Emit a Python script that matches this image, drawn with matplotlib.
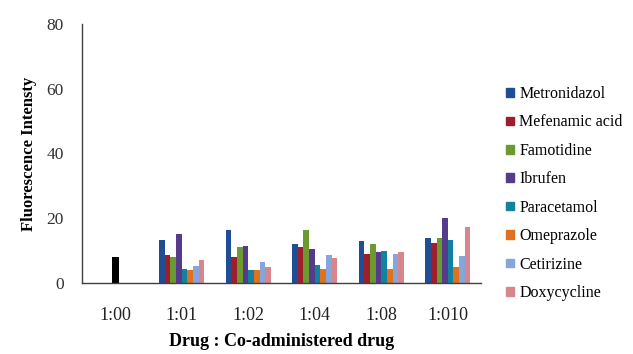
import numpy as np
import matplotlib
matplotlib.use('Agg')
import matplotlib.pyplot as plt
from matplotlib.patches import Patch

plt.rcParams['font.family'] = ['Liberation Serif', 'DejaVu Serif']

ratios = ['1:00', '1:01', '1:02', '1:04', '1:08', '1:010']
drug_alone = [8.0, 0, 0, 0, 0, 0]

drugs = ['Metronidazol', 'Mefenamic acid', 'Famotidine', 'Ibrufen',
         'Paracetamol', 'Omeprazole', 'Cetirizine', 'Doxycycline']
colors = ['#1F4E94', '#9E1F2C', '#6B9B30', '#553B8A',
          '#13829F', '#DF711F', '#86A5DB', '#D7868D']

metronidazol = [0, 13.4, 16.3, 11.9, 13.1, 13.8]
mefenamic = [0, 8.7, 7.9, 11.1, 9.1, 12.3]
famotidine = [0, 7.9, 11.2, 16.3, 11.9, 13.8]
ibrufen = [0, 15.1, 11.5, 10.4, 9.5, 20.2]
paracetamol = [0, 4.4, 4.0, 5.5, 9.9, 13.4]
omeprazole = [0, 4.0, 4.0, 4.4, 4.4, 4.8]
cetirizine = [0, 5.1, 6.4, 8.7, 9.1, 8.3]
doxycycline = [0, 7.1, 4.8, 7.6, 9.5, 17.4]
series = [metronidazol, mefenamic, famotidine, ibrufen,
          paracetamol, omeprazole, cetirizine, doxycycline]

fig = plt.figure(figsize=(6.33, 3.54), dpi=100)
ax = fig.add_axes([0.1295, 0.2006, 0.6305, 0.732])

x = np.arange(len(ratios))
w = 0.085
n = len(series)
for i, vals in enumerate(series):
    off = (i - (n - 1) / 2) * w
    ax.bar(x[1:] + off, vals[1:], w, color=colors[i], label=drugs[i])
ax.bar(x[:1], drug_alone[:1], 0.1, color='black')

ax.set_xlim(-0.5, len(ratios) - 0.5)
ax.set_ylim(0, 80)
ax.set_yticks([0, 20, 40, 60, 80])
ax.set_xticks(x)
ax.set_xticklabels(ratios, fontsize=13)
ax.tick_params(axis='y', labelsize=12.5, length=0, pad=13, labelcolor='#333333')
ax.tick_params(axis='x', length=0, pad=17, labelcolor='#222222')
for s in ['top', 'right']:
    ax.spines[s].set_visible(False)
for s in ['left', 'bottom']:
    ax.spines[s].set_color('#404040')
    ax.spines[s].set_linewidth(1.0)

ax.set_ylabel('Fluorescence Intensty', fontsize=12, fontweight='bold', labelpad=7)
ax.set_xlabel('Drug : Co-administered drug', fontsize=13, fontweight='bold', labelpad=7)

handles = [Patch(color=c) for c in colors]
fig.legend(handles, drugs, loc='upper left', bbox_to_anchor=(0.79, 0.775),
           frameon=False, fontsize=11.5, handlelength=0.45, handleheight=0.45,
           handletextpad=0.35, labelspacing=0.78, borderaxespad=0)

fig.savefig('out.png', dpi=100)
